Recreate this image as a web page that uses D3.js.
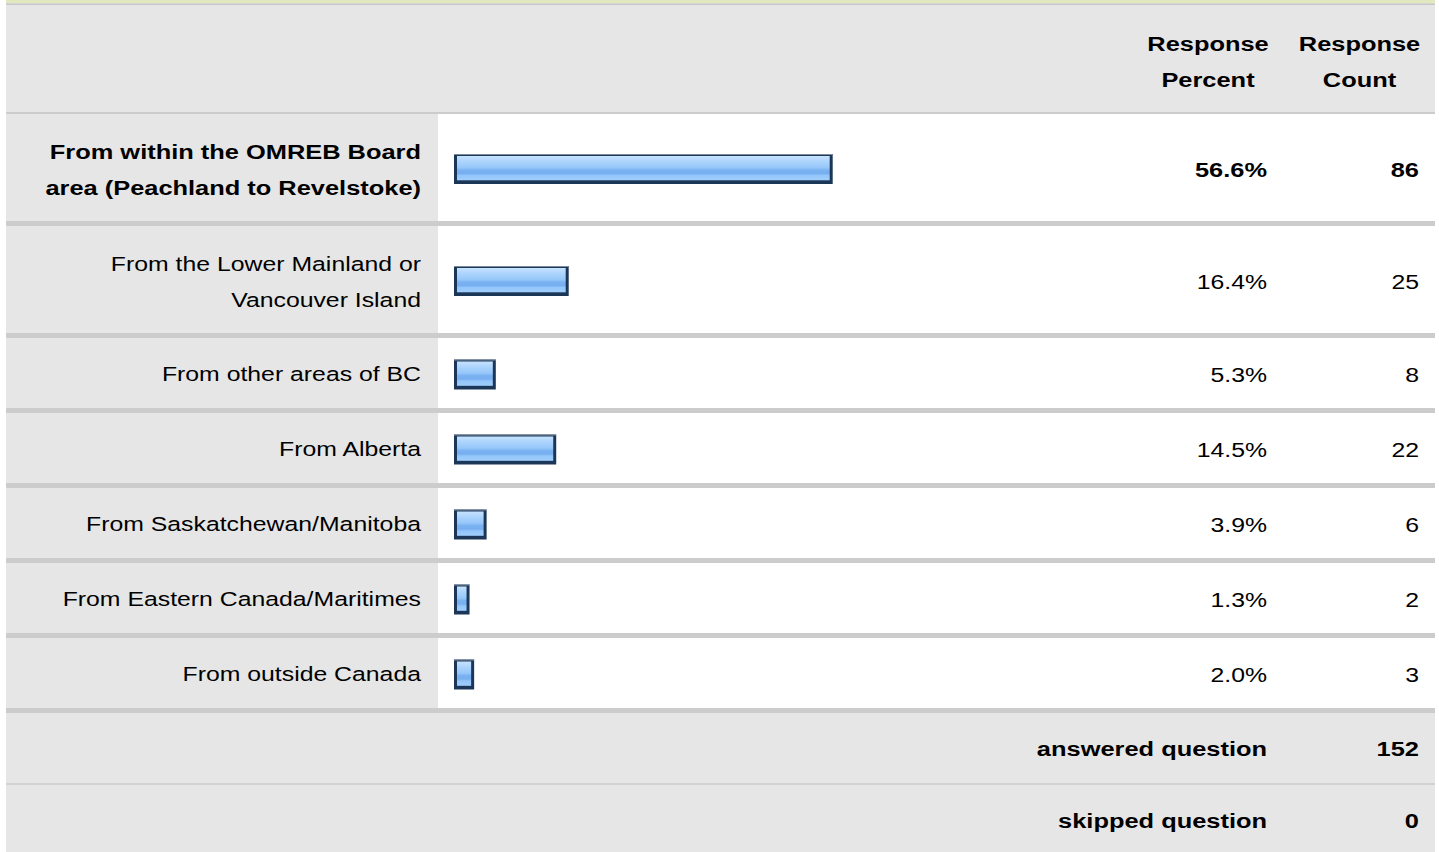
<!DOCTYPE html>
<html>
<head>
<meta charset="utf-8">
<script src="https://cdn.jsdelivr.net/npm/d3@7"></script>
<style>
  html, body { margin: 0; padding: 0; background: #ffffff; }
  svg { display: block; }
  text { font-family: "Liberation Sans", Arial, sans-serif; fill: #000; }
</style>
</head>
<body>
<svg id="chart" width="1439" height="852"></svg>
<script>
// ---- Data ----
const categories = [
  "From within the OMREB Board\narea (Peachland to Revelstoke)",
  "From the Lower Mainland or\nVancouver Island",
  "From other areas of BC",
  "From Alberta",
  "From Saskatchewan/Manitoba",
  "From Eastern Canada/Maritimes",
  "From outside Canada"
];
const percents = [56.6, 16.4, 5.3, 14.5, 3.9, 1.3, 2.0];
const counts = [86, 25, 8, 22, 6, 2, 3];
const headerLabels = [["Response", "Percent"], ["Response", "Count"]];
const footerLabels = ["answered question", "skipped question"];
const footerValues = [152, 0];

// ---- Layout ----
const left = 6, right = 1435;
const labelColRight = 438;
const labelX = 421;
const pctX = 1267;
const cntX = 1419;
const hdrPctX = 1208, hdrCntX = 1359.5;
const SX_REG = 1.21, SX_BOLD = 1.24;
const FS = 20.5;
const lineH = 36;
const baseOff = 7.5;

const svg = d3.select("#chart");
const defs = svg.append("defs");
const grad = defs.append("linearGradient").attr("id", "barGrad")
  .attr("x1", 0).attr("y1", 0).attr("x2", 0).attr("y2", 1);
[[0, "#c8e3ff"], [0.14, "#b6d9fd"], [0.3, "#a5d0fc"], [0.48, "#96c7fa"],
 [0.58, "#7ab2f1"], [0.72, "#76aef0"], [0.8, "#93c6fa"], [1, "#a0cefc"]]
  .forEach(([o, c]) => grad.append("stop").attr("offset", o).attr("stop-color", c));

function txt(g, x, y, s, anchor, bold) {
  return g.append("text")
    .attr("transform", `translate(${x},${y}) scale(${bold ? SX_BOLD : SX_REG},1)`)
    .attr("text-anchor", anchor)
    .attr("font-size", FS)
    .attr("font-weight", bold ? "bold" : "normal")
    .text(s);
}

// top band
svg.append("rect").attr("x", left).attr("y", 0).attr("width", right - left).attr("height", 3.3).attr("fill", "#e2e8bd");
svg.append("rect").attr("x", left).attr("y", 3.3).attr("width", right - left).attr("height", 1.7).attr("fill", "#c8c8c8");

// header
const headerTop = 5, headerBottom = 112;
svg.append("rect").attr("x", left).attr("y", headerTop).attr("width", right - left).attr("height", headerBottom - headerTop).attr("fill", "#e6e6e6");
const hdrMid = (headerTop + headerBottom) / 2 + 3;
headerLabels.forEach((lines, i) => {
  const x = i === 0 ? hdrPctX : hdrCntX;
  lines.forEach((l, j) => {
    txt(svg, x, hdrMid + (j - (lines.length - 1) / 2) * lineH + baseOff, l, "middle", true);
  });
});
svg.append("rect").attr("x", left).attr("y", headerBottom).attr("width", right - left).attr("height", 2).attr("fill", "#cccccc");

// rows
const x = d3.scaleLinear().domain([0, 100]).range([0, 656.7]);
const maxPct = d3.max(percents);
let y = headerBottom + 2;
const rowG = svg.append("g");
categories.forEach((cat, i) => {
  const lines = cat.split("\n");
  const h = 70 + (lines.length - 1) * 37;
  const g = rowG.append("g");
  g.append("rect").attr("x", left).attr("y", y).attr("width", labelColRight - left).attr("height", h).attr("fill", "#e6e6e6");
  g.append("rect").attr("x", labelColRight).attr("y", y).attr("width", right - labelColRight).attr("height", h).attr("fill", "#ffffff");
  const cy = y + h / 2;
  const bold = percents[i] === maxPct;
  const lOff = lines.length > 1 ? 1.5 : 0;
  lines.forEach((l, j) => {
    txt(g, labelX, cy + (j - (lines.length - 1) / 2) * lineH + baseOff + lOff, l, "end", bold);
  });
  // bar
  const bw = x(percents[i]) + 7;
  const by = cy - 13.5;
  g.append("rect").attr("x", 454).attr("y", by).attr("width", bw).attr("height", 30).attr("fill", "#1c3658");
  g.append("rect").attr("x", 454).attr("y", by).attr("width", bw).attr("height", 1).attr("fill", "#7d8ba0");
  g.append("rect").attr("x", 457).attr("y", by + 2).attr("width", Math.max(0, bw - 6)).attr("height", 24.3).attr("fill", "url(#barGrad)");
  txt(g, pctX, cy + baseOff + 1.5, d3.format(".1f")(percents[i]) + "%", "end", bold);
  txt(g, cntX, cy + baseOff + 1.5, String(counts[i]), "end", bold);
  y += h;
  g.append("rect").attr("x", left).attr("y", y).attr("width", right - left).attr("height", 5).attr("fill", "#cccccc");
  y += 5;
});

// footer
footerLabels.forEach((lab, i) => {
  const h = 70;
  svg.append("rect").attr("x", left).attr("y", y).attr("width", right - left).attr("height", h + (i === footerLabels.length - 1 ? 10 : 0)).attr("fill", "#e6e6e6");
  const cy = y + h / 2;
  txt(svg, pctX, cy + baseOff, lab, "end", true);
  txt(svg, cntX, cy + baseOff, String(footerValues[i]), "end", true);
  y += h;
  if (i < footerLabels.length - 1) {
    svg.append("rect").attr("x", left).attr("y", y).attr("width", right - left).attr("height", 2).attr("fill", "#d2d2d2");
    y += 2;
  }
});
</script>
</body>
</html>
